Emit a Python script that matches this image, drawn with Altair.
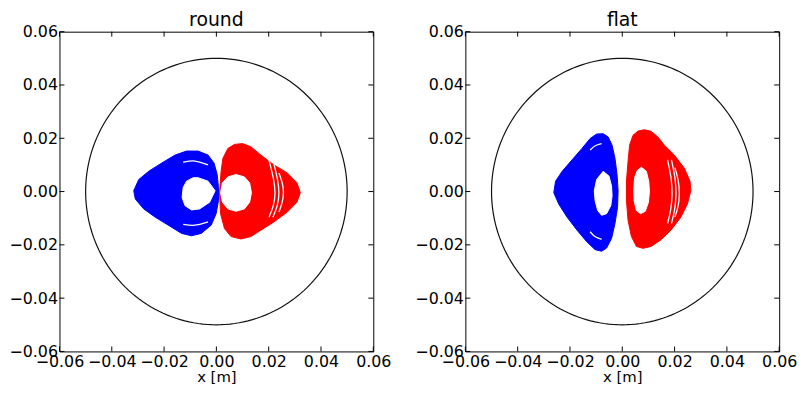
import altair as alt
import pandas as pd
import numpy as np

# ---- data (metres) ----
ticks = [-0.06, -0.04, -0.02, 0.0, 0.02, 0.04, 0.06]
wall_radius = 0.05
titles = ["round", "flat"]

round_blue_x = [-0.0316, -0.0297, -0.0259, -0.0209, -0.0158, -0.0114, -0.0070, -0.0032, -0.0009, 0.0003, 0.0008,
                0.0008, -0.0001, -0.0020, -0.0058, -0.0095, -0.0133, -0.0184, -0.0234, -0.0278, -0.0310]
round_blue_y = [0.0003, 0.0045, 0.0076, 0.0107, 0.0137, 0.0152, 0.0152, 0.0137, 0.0107, 0.0064, 0.0015,
                -0.0034, -0.0083, -0.0126, -0.0157, -0.0166, -0.0157, -0.0126, -0.0096, -0.0065, -0.0028]
round_blue_hole_x = [-0.0127, -0.0114, -0.0089, -0.0070, -0.0032, -0.0005, -0.0026, -0.0064, -0.0095, -0.0120, -0.0131]
round_blue_hole_y = [0.0015, 0.0039, 0.0052, 0.0052, 0.0039, 0.0003, -0.0040, -0.0065, -0.0069, -0.0053, -0.0022]

round_red_x = [0.0018, 0.0025, 0.0044, 0.0069, 0.0100, 0.0132, 0.0170, 0.0220, 0.0271, 0.0308, 0.0321,
               0.0308, 0.0271, 0.0220, 0.0170, 0.0132, 0.0094, 0.0056, 0.0031, 0.0016, 0.0012]
round_red_y = [0.0076, 0.0125, 0.0162, 0.0177, 0.0180, 0.0168, 0.0137, 0.0100, 0.0070, 0.0033, -0.0004,
               -0.0040, -0.0077, -0.0114, -0.0145, -0.0169, -0.0178, -0.0169, -0.0139, -0.0083, -0.0004]
round_red_hole_x = [0.0075, 0.0107, 0.0127, 0.0134, 0.0127, 0.0107, 0.0075, 0.0044, 0.0023, 0.0016, 0.0023, 0.0044]
round_red_hole_y = [0.0064, 0.0055, 0.0033, -0.0004, -0.0040, -0.0065, -0.0074, -0.0065, -0.0040, -0.0004, 0.0033, 0.0055]

flat_blue_x = [-0.0255, -0.0230, -0.0192, -0.0154, -0.0123, -0.0098, -0.0073, -0.0054, -0.0039, -0.0028, -0.0020, -0.0016,
               -0.0018, -0.0028, -0.0041, -0.0060, -0.0079, -0.0104, -0.0136, -0.0173, -0.0211, -0.0243, -0.0262]
flat_blue_y = [0.0039, 0.0076, 0.0119, 0.0162, 0.0199, 0.0216, 0.0217, 0.0205, 0.0174, 0.0125, 0.0064, 0.0003,
               -0.0059, -0.0120, -0.0176, -0.0212, -0.0224, -0.0218, -0.0188, -0.0145, -0.0096, -0.0047, -0.0004]
flat_blue_hole_x = [-0.0073, -0.0051, -0.0041, -0.0039, -0.0044, -0.0060, -0.0079, -0.0094, -0.0104, -0.0107, -0.0098]
flat_blue_hole_y = [0.0076, 0.0058, 0.0021, -0.0016, -0.0053, -0.0083, -0.0089, -0.0071, -0.0034, 0.0003, 0.0045]

flat_red_x = [0.0022, 0.0028, 0.0041, 0.0060, 0.0085, 0.0110, 0.0136, 0.0161, 0.0199, 0.0237, 0.0259, 0.0262,
              0.0249, 0.0224, 0.0186, 0.0148, 0.0110, 0.0079, 0.0054, 0.0035, 0.0022, 0.0016, 0.0016]
flat_red_y = [0.0113, 0.0174, 0.0211, 0.0227, 0.0232, 0.0226, 0.0205, 0.0174, 0.0137, 0.0088, 0.0039, 0.0003,
              -0.0047, -0.0096, -0.0145, -0.0181, -0.0206, -0.0213, -0.0206, -0.0169, -0.0108, -0.0034, 0.0039]
flat_red_hole_x = [0.0073, 0.0092, 0.0101, 0.0104, 0.0100, 0.0088, 0.0070, 0.0054, 0.0045, 0.0044, 0.0047, 0.0058]
flat_red_hole_y = [0.0091, 0.0076, 0.0039, 0.0003, -0.0040, -0.0074, -0.0083, -0.0071, -0.0034, 0.0008, 0.0052, 0.0080]

# white gaps between trajectory bundles
round_streaks = {
    "r1": ([0.0201, 0.0220, 0.0226, 0.0220, 0.0201], [0.0119, 0.0045, -0.0004, -0.0053, -0.0096]),
    "r2": ([0.0216, 0.0235, 0.0241, 0.0235, 0.0216], [0.0119, 0.0045, -0.0004, -0.0053, -0.0096]),
    "r3": ([0.0239, 0.0253, 0.0258, 0.0253, 0.0239], [0.0070, 0.0033, -0.0004, -0.0040, -0.0077]),
    "b1": ([-0.0127, -0.0083, -0.0032], [0.0110, 0.0119, 0.0100]),
    "b2": ([-0.0127, -0.0083, -0.0032], [-0.0123, -0.0130, -0.0114]),
}
flat_streaks = {
    "r1": ([0.0173, 0.0188, 0.0192, 0.0186, 0.0173], [0.0119, 0.0052, -0.0010, -0.0071, -0.0120]),
    "r2": ([0.0188, 0.0203, 0.0207, 0.0201, 0.0188], [0.0119, 0.0052, -0.0010, -0.0071, -0.0120]),
    "r3": ([0.0201, 0.0215, 0.0220, 0.0214, 0.0201], [0.0090, 0.0045, -0.0010, -0.0060, -0.0095]),
    "b1": ([-0.0123, -0.0104, -0.0079], [0.0156, 0.0174, 0.0180]),
    "b2": ([-0.0123, -0.0104, -0.0079], [-0.0151, -0.0172, -0.0179]),
}

W, H = 317, 323
FONT = "DejaVu Sans"


def poly(name, xs, ys, close=True):
    xs = list(xs) + ([xs[0]] if close else [])
    ys = list(ys) + ([ys[0]] if close else [])
    return pd.DataFrame({"shape": name, "i": range(len(xs)), "x": xs, "y": ys})


def streak_df(d):
    return pd.concat([poly(k, v[0], v[1], close=False) for k, v in d.items()])


ang = np.deg2rad(np.arange(0, 361, 2))
circle_df = pd.DataFrame({"i": range(len(ang)), "x": wall_radius * np.cos(ang), "y": wall_radius * np.sin(ang)})
tick_df = pd.DataFrame({"v": ticks})

xscale = alt.Scale(domain=[-0.06, 0.06], nice=False, zero=False)
yscale = alt.Scale(domain=[-0.06, 0.06], nice=False, zero=False)


def panel(title, blue, red, holes, streaks):
    base_x = alt.X("x:Q", scale=xscale,
                   axis=alt.Axis(values=ticks, format=".2f", title="x [m]", labelFlush=False,
                                 labelOverlap=False))
    base_y = alt.Y("y:Q", scale=yscale,
                   axis=alt.Axis(values=ticks, format=".2f", title=None, labelOverlap=False))
    circ = alt.Chart(circle_df).mark_line(color="#111111", strokeWidth=1.2).encode(
        x=base_x, y=base_y, order="i:Q")
    b = alt.Chart(blue).mark_line(fill="#0000ff", stroke="#0000ff", strokeWidth=1).encode(
        x="x:Q", y="y:Q", detail="shape:N", order="i:Q")
    r = alt.Chart(red).mark_line(fill="#ff0000", stroke="#ff0000", strokeWidth=1).encode(
        x="x:Q", y="y:Q", detail="shape:N", order="i:Q")
    h = alt.Chart(holes).mark_line(fill="white", stroke="white", strokeWidth=1).encode(
        x="x:Q", y="y:Q", detail="shape:N", order="i:Q")
    s = alt.Chart(streaks).mark_line(color="white", strokeWidth=1.3, interpolate="basis").encode(
        x="x:Q", y="y:Q", detail="shape:N", order="i:Q")
    tl = 5
    t_top = alt.Chart(tick_df).mark_rule(color="black").encode(x="v:Q", y=alt.value(0), y2=alt.value(tl))
    t_bot = alt.Chart(tick_df).mark_rule(color="black").encode(x="v:Q", y=alt.value(H), y2=alt.value(H - tl))
    t_lft = alt.Chart(tick_df).mark_rule(color="black").encode(y="v:Q", x=alt.value(0), x2=alt.value(tl))
    t_rgt = alt.Chart(tick_df).mark_rule(color="black").encode(y="v:Q", x=alt.value(W), x2=alt.value(W - tl))
    ttl = alt.Chart(pd.DataFrame({"t": [title]})).mark_text(
        fontSize=19, font=FONT, color="black", baseline="alphabetic", align="center").encode(
        text="t:N", x=alt.value(W / 2), y=alt.value(-6))
    return alt.layer(circ, b, r, h, s, t_top, t_bot, t_lft, t_rgt, ttl).properties(width=W, height=H)


left = panel(titles[0],
             poly("b", round_blue_x, round_blue_y),
             poly("r", round_red_x, round_red_y),
             pd.concat([poly("hb", round_blue_hole_x, round_blue_hole_y),
                        poly("hr", round_red_hole_x, round_red_hole_y)]),
             streak_df(round_streaks))
right = panel(titles[1],
              poly("b", flat_blue_x, flat_blue_y),
              poly("r", flat_red_x, flat_red_y),
              pd.concat([poly("hb", flat_blue_hole_x, flat_blue_hole_y),
                         poly("hr", flat_red_hole_x, flat_red_hole_y)]),
              streak_df(flat_streaks))

chart = alt.hconcat(left, right, spacing=22).properties(padding=0).configure_axis(
    grid=False, domain=False, tickSize=0, labelPadding=2, labelFontSize=16, labelFont=FONT,
    labelColor="black", titleFont=FONT, titleFontSize=15, titleFontWeight="normal", titleColor="black",
    titlePadding=0
).configure_view(stroke="black", strokeWidth=1)

chart.save("out.html", embed_options={"renderer": "svg", "actions": False})
